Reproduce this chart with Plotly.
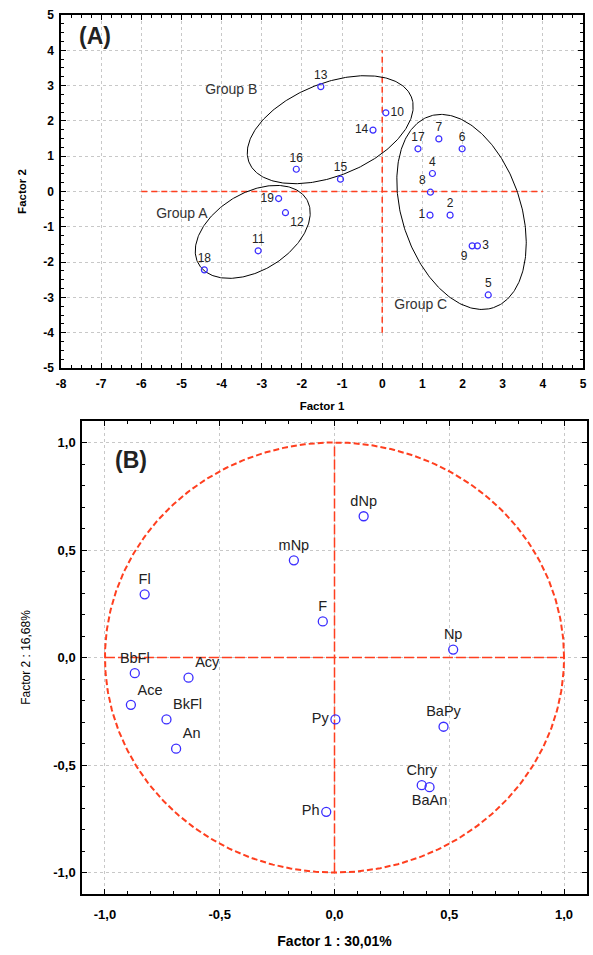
import numpy as np
import plotly.graph_objects as go

# ---------------- data: panel A (factor scores of samples) ----------------
sample_ids = ["1", "2", "3", "4", "5", "6", "7", "8", "9", "10",
              "11", "12", "13", "14", "15", "16", "17", "18", "19"]
score_f1 = [1.19, 1.69, 2.37, 1.25, 2.64, 1.99, 1.41, 1.20, 2.24, 0.09,
            -3.09, -2.41, -1.53, -0.23, -1.04, -2.14, 0.89, -4.43, -2.58]
score_f2 = [-0.67, -0.67, -1.54, 0.51, -2.93, 1.21, 1.49, -0.02, -1.54, 2.23,
            -1.68, -0.60, 2.97, 1.74, 0.35, 0.63, 1.21, -2.22, -0.20]
score_lblpos = ["middle left", "top center", "middle right", "top center", "top center",
                "top center", "top center", "top left", "bottom left", "middle right",
                "top center", "bottom right", "top center", "middle left", "top center",
                "top center", "top center", "top center", "middle left"]

group_names = ["Group A", "Group B", "Group C"]
group_label_x = [-4.99, -3.76, 0.96]
group_label_y = [-0.65, 2.85, -3.24]
# ellipse: centre (data units), semi-axes (screen px), tilt (deg, screen)
group_cx = [-3.225, -1.295, 1.975]
group_cy = [-1.144, 1.751, -0.579]
group_a = [63.0, 87.5, 100.9]
group_b = [38.7, 46.3, 59.3]
group_ang = [31.2, 22.0, -71.5]

A_xticks = list(range(-8, 6))
A_yticks = list(range(-5, 6))

# ---------------- data: panel B (variable loadings) ----------------
var_names = ["Fl", "mNp", "dNp", "F", "Np", "BbFl", "Acy", "Ace", "BkFl", "An",
             "Py", "BaPy", "Chry", "BaAn", "Ph"]
load_f1 = [-0.827, -0.177, 0.127, -0.051, 0.517, -0.870, -0.636, -0.887, -0.732, -0.690,
           0.004, 0.475, 0.380, 0.414, -0.036]
load_f2 = [0.294, 0.452, 0.657, 0.168, 0.037, -0.073, -0.094, -0.220, -0.288, -0.424,
           -0.288, -0.322, -0.594, -0.603, -0.718]
load_lblpos = ["top center", "top center", "top center", "top center", "top center",
               "top center", "top right", "top right", "top right", "top right",
               "middle left", "top center", "top center", "bottom center", "middle left"]
B_ticks = [-1, -0.5, 0, 0.5, 1]
B_ticktext = ["-1,0", "-0,5", "0,0", "0,5", "1,0"]

# ---------------- layout geometry ----------------
W, H = 593, 955
A_x = [61, 583]; A_y = [15, 368]          # pixel box of panel A
B_x = [82, 587]; B_y = [421, 894]         # pixel box of panel B
A_xr = [-8, 5]; A_yr = [-5, 5]
B_xr = [-1.1, 1.1]; B_yr = [-1.1, 1.1]

def dom_x(p): return [p[0] / W, p[1] / W]
def dom_y(p): return [1 - p[1] / H, 1 - p[0] / H]

RED = "#ff3f1f"
BLUE = "#3a2dff"
FONT = "Arial, Liberation Sans, sans-serif"

fig = go.Figure()

# panel A reference lines
fig.add_trace(go.Scatter(x=[-6, 4], y=[0, 0], mode="lines", xaxis="x", yaxis="y",
                         line=dict(color=RED, width=1.5, dash="6px,4px"),
                         showlegend=False, hoverinfo="skip"))
fig.add_trace(go.Scatter(x=[0, 0], y=[-4, 4], mode="lines", xaxis="x", yaxis="y",
                         line=dict(color=RED, width=1.5, dash="6px,4px"),
                         showlegend=False, hoverinfo="skip"))

# ellipses (screen-px semi axes converted through axis scale)
sxA = (A_x[1] - A_x[0]) / (A_xr[1] - A_xr[0])
syA = (A_y[1] - A_y[0]) / (A_yr[1] - A_yr[0])
t = np.linspace(0, 2 * np.pi, 300)
for cx, cy, a, b, ang in zip(group_cx, group_cy, group_a, group_b, group_ang):
    th = np.deg2rad(ang)
    px = a * np.cos(t) * np.cos(th) - b * np.sin(t) * np.sin(th)
    py = a * np.cos(t) * np.sin(th) + b * np.sin(t) * np.cos(th)
    fig.add_trace(go.Scatter(x=cx + px / sxA, y=cy + py / syA, mode="lines",
                             xaxis="x", yaxis="y", line=dict(color="black", width=1),
                             showlegend=False, hoverinfo="skip"))

fig.add_trace(go.Scatter(x=score_f1, y=score_f2, text=sample_ids, mode="markers+text",
                         textposition=score_lblpos, xaxis="x", yaxis="y",
                         marker=dict(symbol="circle-open", size=6, color=BLUE,
                                     line=dict(width=1.2, color=BLUE)),
                         textfont=dict(family=FONT, size=12, color="#222"),
                         showlegend=False))

fig.add_trace(go.Scatter(x=group_label_x, y=group_label_y, text=group_names, mode="text",
                         xaxis="x", yaxis="y",
                         textfont=dict(family=FONT, size=14, color="#333"),
                         showlegend=False, hoverinfo="skip"))

# panel B circle and axes lines
tc = np.linspace(0, 2 * np.pi, 400)
fig.add_trace(go.Scatter(x=np.cos(tc), y=np.sin(tc), mode="lines", xaxis="x2", yaxis="y2",
                         line=dict(color=RED, width=2, dash="6px,3px"),
                         showlegend=False, hoverinfo="skip"))
fig.add_trace(go.Scatter(x=[-1, 1], y=[0, 0], mode="lines", xaxis="x2", yaxis="y2",
                         line=dict(color=RED, width=1.5, dash="10px,3px"),
                         showlegend=False, hoverinfo="skip"))
fig.add_trace(go.Scatter(x=[0, 0], y=[-1, 1], mode="lines", xaxis="x2", yaxis="y2",
                         line=dict(color=RED, width=1.5, dash="10px,3px"),
                         showlegend=False, hoverinfo="skip"))

fig.add_trace(go.Scatter(x=load_f1, y=load_f2, text=var_names, mode="markers+text",
                         textposition=load_lblpos, xaxis="x2", yaxis="y2",
                         marker=dict(symbol="circle-open", size=9, color=BLUE,
                                     line=dict(width=1.3, color=BLUE)),
                         textfont=dict(family=FONT, size=14.5, color="#222"),
                         showlegend=False))

axis_common = dict(showline=True, linecolor="black", linewidth=1.5, mirror="allticks",
                   ticks="inside", ticklen=5, tickcolor="black", showgrid=True,
                   gridcolor="#c8c8c8", griddash="dot", gridwidth=1, zeroline=False,
                   tickfont=dict(family=FONT, size=12, color="black", weight="bold"),
                   fixedrange=True, automargin=False)

minorA = dict(dtick=0.25, ticks="inside", ticklen=3, tickcolor="black", showgrid=False)
minorB = dict(dtick=0.1, ticks="inside", ticklen=3, tickcolor="black", showgrid=False)

fig.update_layout(
    width=W, height=H, margin=dict(l=0, r=0, t=0, b=0),
    plot_bgcolor="white", paper_bgcolor="white",
    xaxis=dict(axis_common, domain=dom_x(A_x), range=A_xr, anchor="y",
               tickvals=A_xticks, ticktext=[str(v) for v in A_xticks],
               ticklabelstandoff=4, minor=minorA,
               title=dict(text="<b>Factor 1</b>", font=dict(family=FONT, size=11.5, color="black"),
                          standoff=12)),
    yaxis=dict(axis_common, domain=dom_y(A_y), range=A_yr, anchor="x",
               tickvals=A_yticks, ticktext=[str(v) for v in A_yticks],
               ticklabelstandoff=3, minor=minorA,
               title=dict(text="<b>Factor 2</b>", font=dict(family=FONT, size=11.5, color="black"),
                          standoff=14)),
    xaxis2=dict(axis_common, domain=dom_x(B_x), range=B_xr, anchor="y2",
                tickvals=B_ticks, ticktext=B_ticktext,
                tickfont=dict(family=FONT, size=13, color="black", weight="bold"),
                ticklabelstandoff=8, minor=minorB,
                title=dict(text="<b>Factor 1 : 30,01%</b>",
                           font=dict(family=FONT, size=14, color="black"), standoff=15)),
    yaxis2=dict(axis_common, domain=dom_y(B_y), range=B_yr, anchor="x2",
                tickvals=B_ticks, ticktext=B_ticktext,
                tickfont=dict(family=FONT, size=13, color="black", weight="bold"),
                ticklabelstandoff=2, minor=minorB,
                title=dict(text="Factor 2 : 16,68%",
                           font=dict(family=FONT, size=12, color="black"), standoff=20)),
    annotations=[
        dict(text="<b>(A)</b>", x=-7.15, y=4.4, xref="x", yref="y", showarrow=False,
             font=dict(family=FONT, size=23, color="#222")),
        dict(text="<b>(B)</b>", x=-0.885, y=0.92, xref="x2", yref="y2", showarrow=False,
             font=dict(family=FONT, size=23, color="#222")),
    ],
)

fig.write_html("out.html", config={"displayModeBar": False},
               post_script="document.body.style.margin='0';document.body.style.overflow='hidden';")
